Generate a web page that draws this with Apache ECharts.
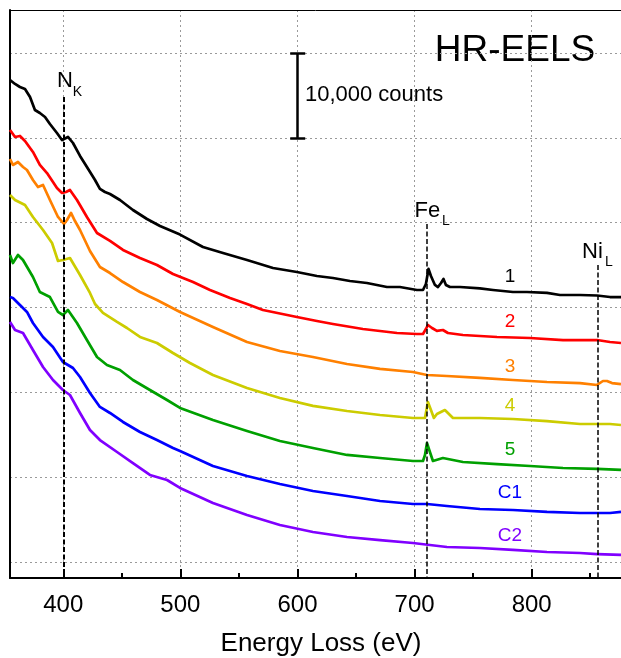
<!DOCTYPE html>
<html><head><meta charset="utf-8">
<script src="https://cdn.jsdelivr.net/npm/echarts@6/dist/echarts.min.js"></script>
<style>html,body{margin:0;padding:0;background:#fff}#c{width:621px;height:658px}</style>
</head><body><div id="c"></div>
<script>
// ---- axes ----
const xMin = 354.5, xMax = 876.3;
const yMin = -1886, yMax = 65080;
const majorTicks = [400, 500, 600, 700, 800];
const minorTicks = [450, 550, 650, 750, 850];
const gridY = [0, 10000, 20000, 30000, 40000, 50000, 60000];

// ---- series (energy eV, counts incl. vertical offset) ----
const seriesNames = ['1', '2', '3', '4', '5', 'C1', 'C2'];
const seriesColors = ['#000000', '#ff0000', '#ff8000', '#cccc00', '#00a000', '#0000ff', '#8000ff'];

const s1 = [[354.5,56830],[358.8,56360],[363,56000],[367.3,55770],[371.6,54820],[375.8,53290],[380,52940],[384.4,52470],[388.6,51640],[394.6,50580],[398.9,49750],[400.6,49520],[404,50110],[408.3,49400],[414.3,47870],[420.2,46570],[427.1,45040],[431.3,43980],[435.6,43620],[439.9,43390],[448.4,42680],[459.5,41500],[471.5,40440],[482.6,39610],[499.7,38600],[519.3,37140],[536.4,36430],[556.9,35610],[579.1,34660],[599.5,34190],[616.6,33720],[630.3,33480],[644.8,33130],[659.3,32890],[676.4,32420],[687.5,32420],[702,32070],[707.2,32070],[709.7,32780],[711.9,34550],[714,33720],[717.4,32660],[720,32420],[722.6,32890],[724.7,33370],[726.8,32660],[730.2,32420],[738.8,32420],[755.8,32250],[767,32070],[784,31830],[796,31830],[813.1,31720],[824.2,31480],[841.3,31480],[855.8,31420],[866.9,31240],[876.3,31240]];
const s2 = [[354.5,50930],[358.8,50110],[363,50230],[367.3,49640],[374.1,48340],[380,46810],[386.1,45860],[394.6,44100],[398.9,43510],[402.3,43620],[405.7,43860],[411.7,42680],[420.2,40680],[428.8,38790],[439.9,37850],[451,36790],[465.5,35840],[480,35020],[493.7,33960],[510.8,33010],[525.3,32070],[542.4,31130],[556.9,30420],[570.5,29710],[599.5,28890],[616.6,28410],[630.3,28060],[655.9,27470],[685,27000],[702,26880],[707.2,26880],[709.7,27470],[711.4,27940],[714.9,27590],[719.1,27240],[724.2,27350],[728.5,27000],[741.3,26760],[770.4,26530],[798.6,26410],[826.8,26170],[855.8,26170],[866.9,25940],[876.3,25820]];
const s3 = [[354.5,47510],[357,46810],[361.3,47160],[365.6,46570],[369,46220],[374.1,45040],[378.4,44210],[382.7,44450],[388.6,42680],[395.5,40680],[400.6,39850],[403.2,40320],[406.6,41150],[410,40200],[414.3,39140],[422.8,36670],[431.3,34780],[439.9,34070],[451,33010],[465.5,31830],[480,30890],[499.7,29480],[527.8,27710],[556.9,25940],[585,24880],[613.2,24170],[642.3,23340],[670.5,22760],[698.6,22400],[710.6,22050],[727.6,21930],[755.8,21700],[784,21460],[813.1,21220],[841.3,21100],[855.8,20870],[860.9,21340],[864.3,21340],[868.6,21100],[876.3,20980]];
const s4 = [[354.5,43270],[358.8,42680],[367.3,42090],[374.1,40680],[382.7,39140],[390.4,37610],[395.5,35490],[399.7,35610],[405.7,35840],[414.3,33840],[422.8,31720],[427.1,30420],[433.9,29360],[445.9,28300],[454.4,27590],[465.5,26530],[480,25820],[493.7,24640],[508.2,23460],[527.8,22050],[556.9,20520],[585,19340],[613.2,18400],[642.3,17800],[670.5,17330],[698.6,16980],[708.9,16980],[711.4,18860],[714,17920],[716.5,16980],[719.1,17450],[725.9,17920],[732.8,16980],[755.8,16980],[784,16860],[813.1,16620],[841.3,16270],[866.9,16270],[876.3,16150]];
const s5 = [[354.5,36200],[357,35250],[361.3,36200],[365.6,35610],[374.1,33600],[380,31830],[388.6,31240],[395.5,29480],[399.7,29120],[404,29710],[411.7,28180],[420.2,26170],[428.8,24170],[437.3,23230],[448.4,22640],[459.5,21460],[474,20280],[488.6,19100],[499.7,18160],[527.8,16740],[556.9,15450],[585,14270],[613.2,13440],[642.3,12620],[670.5,12260],[698.6,11910],[707.2,11910],[708.9,12620],[710.6,14030],[713.1,12970],[715.7,11910],[724.2,12260],[741.3,11790],[770.4,11550],[798.6,11320],[826.8,11080],[855.8,10970],[876.3,10850]];
const sC1 = [[354.5,31240],[357,31130],[363,30300],[369,29480],[374.1,28180],[382.7,26530],[391.2,25350],[399.7,23580],[408.3,22870],[414.3,21810],[422.8,19930],[431.3,18280],[439.9,17570],[451,16510],[465.5,15330],[480,14380],[493.7,13440],[499.7,13090],[527.8,11320],[556.9,10140],[585,9200],[613.2,8370],[642.3,7780],[670.5,7190],[698.6,6840],[710.6,6840],[727.6,6600],[755.8,6250],[784,6130],[813.1,5900],[841.3,5780],[866.9,5780],[876.3,5900]];
const sC2 = [[354.5,28300],[358.8,27350],[365.6,27000],[374.1,25000],[382.7,22990],[391.2,21460],[399.7,20280],[405.7,19690],[414.3,17570],[422.8,15560],[431.3,14380],[445.9,12970],[459.5,11670],[474,10260],[488.6,9670],[499.7,8730],[527.8,6960],[556.9,5540],[585,4360],[613.2,3540],[642.3,2950],[670.5,2590],[698.6,2240],[727.6,1770],[755.8,1650],[784,1420],[813.1,1180],[841.3,1060],[855.8,940],[876.3,830]];
const allSeries = [s1, s2, s3, s4, s5, sC1, sC2];

// ---- annotations ----
const labelE = 781.5;
const labelY = [33600, 28300, 22990, 18390, 13210, 8140, 3070];
const edgeLines = [[400.2, 54820, 2], [710.8, 39850, 1.5], [856.4, 35020, 1.5]]; // energy, top, width
const edgeTexts = [['N', 401.5, 56710, 'K', 412.1, 55410], ['Fe', 711, 41440, 'L', 726.8, 40200], ['Ni', 851.9, 36610, 'L', 866, 35370]];
const scaleBar = {E: 600.2, from: 50000, to: 60000, half: 6.4, text: '10,000 counts', textE: 606.4, textY: 55100};

const FONT = 'Liberation Sans, Arial, Helvetica, sans-serif';
const chart = echarts.init(document.getElementById('c'), null, {renderer: 'canvas'});

const markLineData = [];
edgeLines.forEach(([E, top, w]) => {
  markLineData.push([{coord: [E, top], lineStyle: {color: '#000', width: w, type: [5, 2.5]}}, {coord: [E, yMin]}]);
});
markLineData.push([{coord: [scaleBar.E, scaleBar.from], lineStyle: {color: '#000', width: 2.5, type: 'solid'}}, {coord: [scaleBar.E, scaleBar.to]}]);
[scaleBar.from, scaleBar.to].forEach(v => {
  markLineData.push([{coord: [scaleBar.E - scaleBar.half, v], lineStyle: {color: '#000', width: 2.5, type: 'solid'}}, {coord: [scaleBar.E + scaleBar.half, v]}]);
});

const markPointData = [];
edgeTexts.forEach(([m, mx, my, s, sx, sy]) => {
  markPointData.push({coord: [mx, my], symbolSize: 0, label: {show: true, formatter: m, fontSize: 22, color: '#000', fontFamily: FONT, position: 'inside'}});
  markPointData.push({coord: [sx, sy], symbolSize: 0, label: {show: true, formatter: s, fontSize: 14, color: '#000', fontFamily: FONT, position: 'inside'}});
});
markPointData.push({coord: [scaleBar.textE, scaleBar.textY], symbolSize: 0, label: {show: true, formatter: scaleBar.text, fontSize: 22, color: '#000', fontFamily: FONT, position: 'right', distance: 0}});

const series = allSeries.map((d, i) => {
  const mp = [{coord: [labelE, labelY[i]], symbolSize: 0, label: {show: true, formatter: seriesNames[i], fontSize: 19, color: seriesColors[i], fontFamily: FONT, position: 'inside'}}];
  const s = {
    type: 'line', name: seriesNames[i], data: d, showSymbol: false, symbol: 'none',
    lineStyle: {color: seriesColors[i], width: 2.7, join: 'round'}, z: 3, animation: false,
    markPoint: {symbol: 'circle', silent: true, animation: false, data: i === 0 ? mp.concat(markPointData) : mp}
  };
  if (i === 0) {
    s.markLine = {symbol: ['none', 'none'], silent: true, animation: false, label: {show: false}, data: markLineData};
  }
  return s;
});

const axisCommon = {type: 'value', min: xMin, max: xMax};
chart.setOption({
  animation: false,
  textStyle: {fontFamily: FONT},
  grid: {left: 10, right: 0, top: 10, bottom: 80, outerBoundsMode: 'none'},
  xAxis: [
    Object.assign({}, axisCommon, {
      position: 'bottom',
      axisLine: {show: true, onZero: false, lineStyle: {color: '#000', width: 2}},
      axisTick: {show: true, inside: true, length: 9, customValues: majorTicks, lineStyle: {color: '#000', width: 2}},
      axisLabel: {show: true, customValues: majorTicks, fontSize: 24, color: '#000', margin: 15, fontFamily: FONT},
      splitLine: {show: true, lineStyle: {color: '#9a9a9a', width: 1, type: [2, 3]}}
    }),
    Object.assign({}, axisCommon, {
      position: 'bottom',
      axisLine: {show: false, onZero: false},
      axisTick: {show: true, inside: true, length: 5, customValues: minorTicks, lineStyle: {color: '#000', width: 2}},
      axisLabel: {show: false},
      splitLine: {show: false}
    }),
    Object.assign({}, axisCommon, {
      position: 'top',
      axisLine: {show: true, onZero: false, lineStyle: {color: '#000', width: 1}},
      axisTick: {show: false}, axisLabel: {show: false}, splitLine: {show: false}
    })
  ],
  yAxis: {
    type: 'value', min: yMin, max: yMax,
    axisLine: {show: true, onZero: false, lineStyle: {color: '#000', width: 2}},
    axisTick: {show: false, customValues: gridY},
    axisLabel: {show: false},
    splitLine: {show: true, lineStyle: {color: '#9a9a9a', width: 1, type: [2, 3]}}
  },
  graphic: [
    {type: 'text', x: 515, y: 51, style: {text: 'HR-EELS', fontSize: 37, fontFamily: FONT, fill: '#000', textAlign: 'center', textVerticalAlign: 'middle'}},
    {type: 'text', x: 321, y: 644, style: {text: 'Energy Loss (eV)', fontSize: 26, fontFamily: FONT, fill: '#000', textAlign: 'center', textVerticalAlign: 'middle'}}
  ],
  series: series
});
</script>
</body></html>
